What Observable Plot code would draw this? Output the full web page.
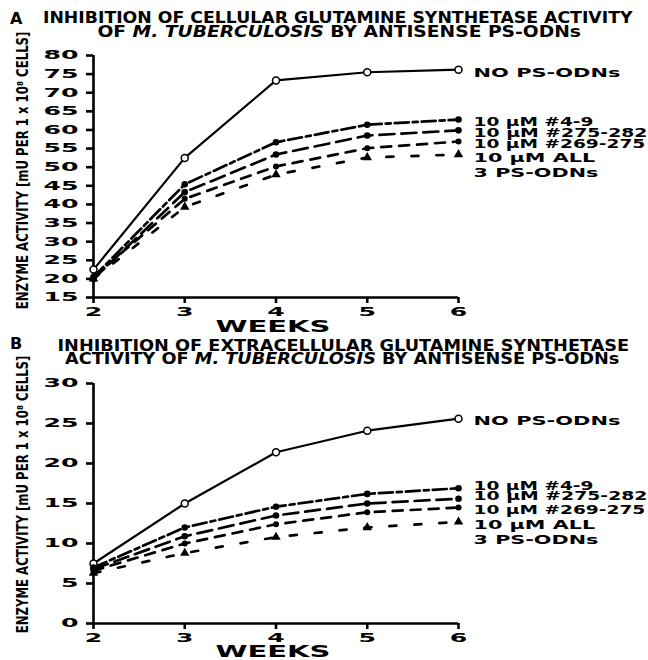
<!DOCTYPE html>
<html>
<head>
<meta charset="utf-8">
<script src="https://cdn.jsdelivr.net/npm/d3@7"></script>
<script src="https://cdn.jsdelivr.net/npm/@observablehq/plot@0.6"></script>
<style>
  body { margin: 0; background: #fff; }
  #root { position: relative; width: 648px; height: 660px; overflow: hidden; background: #fff;
          font-family: "DejaVu Sans", sans-serif; font-weight: bold; color: #000; }
  .letter { position: absolute; left: 10px; font-size: 16px; line-height: 16px; }
  .tline { position: absolute; left: 0; text-align: center; font-size: 15px; line-height: 15px; white-space: nowrap; }
  .tline span { display: inline-block; transform-origin: 50% 50%; }
  .tline i { font-style: italic; }
  .panel { position: absolute; left: 0; }
</style>
</head>
<body>
<div id="root"></div>
<script>
// ---------- data ----------
const weeks = [2, 3, 4, 5, 6];
const seriesLabels = ["NO PS-ODNs", "10 µM #4-9", "10 µM #275-282", "10 µM #269-275", "10 µM ALL\n3 PS-ODNs"];

// Panel A: cellular enzyme activity (mU per 1 x 10^8 cells)
const cellularNone = [22.5, 52.5, 73.3, 75.5, 76.2];
const cellular49   = [20.5, 45.4, 56.7, 61.4, 62.8];
const cellular275  = [20.0, 43.3, 53.4, 58.5, 59.9];
const cellular269  = [20.5, 41.5, 50.2, 55.1, 56.9];
const cellularAll  = [20.0, 39.3, 48.0, 52.6, 53.4];
const yTicksA = [15, 20, 25, 30, 35, 40, 45, 50, 55, 60, 65, 70, 75, 80];

// Panel B: extracellular enzyme activity
const extraNone = [7.5, 15.0, 21.4, 24.1, 25.6];
const extra49   = [7.0, 12.0, 14.6, 16.2, 16.9];
const extra275  = [6.8, 10.9, 13.5, 15.0, 15.6];
const extra269  = [6.6, 10.0, 12.4, 13.9, 14.5];
const extraAll  = [6.3, 8.8, 10.8, 12.0, 12.7];
const yTicksB = [0, 5, 10, 15, 20, 25, 30];

const yLabel = "ENZYME ACTIVITY [mU PER 1 x 10⁸ CELLS]";
const xLabel = "WEEKS";
const titleA = ["INHIBITION OF CELLULAR GLUTAMINE SYNTHETASE ACTIVITY", "OF <i>M. TUBERCULOSIS</i> BY ANTISENSE PS-ODNs"];
const titleB = ["INHIBITION OF EXTRACELLULAR GLUTAMINE SYNTHETASE", "ACTIVITY OF <i>M. TUBERCULOSIS</i> BY ANTISENSE PS-ODNs"];

// ---------- helpers ----------
const rows = (vals) => weeks.map((w, i) => ({week: w, value: vals[i]}));
// rendered widths (px) of the right-hand series labels
const labelWidths = [147, 120, 174, 172, 125];

function scaleText(t, k) {
  const tr = t.getAttribute("transform");
  if (tr) t.setAttribute("transform", tr + ` scale(${k},1)`);
  else {
    const x = +t.getAttribute("x") || 0, y = +t.getAttribute("y") || 0;
    t.setAttribute("transform", `translate(${x},${y}) scale(${k},1) translate(${-x},${-y})`);
  }
}
function fitText(t, target) {
  const w = t.getBBox().width;
  if (w > 0) scaleText(t, target / w);
}

function makePanel(cfg) {
  const [none, s49, s275, s269, sAll] = cfg.series;
  const lw = 2.7;
  const labelMarks = cfg.series.map((s, i) =>
    Plot.text([{week: 6, value: s[s.length - 1], label: seriesLabels[i]}],
      {x: "week", y: "value", text: "label", dx: 15, dy: -4 + cfg.labelShift[i], textAnchor: "start",
       lineAnchor: "top", lineHeight: 1.2, fontSize: 12.5}));
  return Plot.plot({
    width: 648,
    height: cfg.height,
    marginLeft: 93,
    marginRight: 190,
    marginTop: cfg.marginTop,
    marginBottom: cfg.marginBottom,
    x: {domain: [2, 6]},
    y: {domain: cfg.yDomain},
    style: {fontFamily: "DejaVu Sans", fontWeight: "bold", fontSize: "13px", color: "#000",
            background: "transparent", overflow: "visible"},
    marks: [
      Plot.ruleX([2], {strokeWidth: 2.6}),
      Plot.ruleY([cfg.yDomain[0]], {strokeWidth: 2.6}),
      Plot.axisY({ticks: cfg.yTicks, tickSize: 7, strokeWidth: 2.6, label: null, tickFormat: () => ""}),
      Plot.axisX({ticks: weeks, tickSize: 6, strokeWidth: 2.6, label: null, tickFormat: () => ""}),
      Plot.text(cfg.yTicks, {x: () => 2, y: d => d, text: d => String(d), dx: -15, textAnchor: "end",
                             lineAnchor: "middle", fontSize: 12}),
      Plot.text(weeks, {x: d => d, y: () => cfg.yDomain[0], text: d => String(d), dy: 10,
                        lineAnchor: "top", fontSize: 12}),
      Plot.line(rows(none), {x: "week", y: "value", strokeWidth: 2.2}),
      Plot.line(rows(s49), {x: "week", y: "value", strokeWidth: lw, strokeDasharray: "14,4,5,4"}),
      Plot.line(rows(s275), {x: "week", y: "value", strokeWidth: lw, strokeDasharray: "15,7"}),
      Plot.line(rows(s269), {x: "week", y: "value", strokeWidth: lw, strokeDasharray: "10,8"}),
      Plot.line(rows(sAll), {x: "week", y: "value", strokeWidth: lw, strokeDasharray: "7,18"}),
      Plot.dot(rows(none), {x: "week", y: "value", r: 3.5, fill: "white", stroke: "black", strokeWidth: 1.5}),
      Plot.dot(rows(s49), {x: "week", y: "value", r: 3.3, fill: "black"}),
      Plot.dot(rows(s275), {x: "week", y: "value", r: 3.3, fill: "black"}),
      Plot.dot(rows(s269), {x: "week", y: "value", r: 3, fill: "black"}),
      Plot.dot(rows(sAll), {x: "week", y: "value", r: 3.5, symbol: "triangle", fill: "black"}),
      ...labelMarks,
      Plot.text([yLabel], {frameAnchor: "left", rotate: -90, dx: -70, dy: cfg.yLabelDy,
                           textAnchor: "middle", lineAnchor: "middle", fontSize: 15,
                           fontFamily: "DejaVu Sans Condensed"}),
      Plot.text([xLabel], {frameAnchor: "bottom", dx: -3, dy: cfg.weeksDy, lineAnchor: "top",
                           fontSize: 16})
    ]
  });
}

function addTitle(root, letter, letterTop, lines) {
  const L = document.createElement("div");
  L.className = "letter"; L.style.top = letterTop + "px"; L.textContent = letter;
  root.appendChild(L);
  for (const ln of lines) {
    const d = document.createElement("div");
    d.className = "tline";
    d.style.top = ln.top + "px";
    d.style.width = (2 * ln.center) + "px";
    const s = document.createElement("span");
    s.innerHTML = ln.html;
    d.appendChild(s);
    root.appendChild(d);
    const w = s.offsetWidth;
    if (w > 0) s.style.transform = `scaleX(${ln.width / w})`;
  }
}

function finishSvg(svg) {
  const firstLines = seriesLabels.map(s => s.split("\n")[0]);
  svg.querySelectorAll("text").forEach(t => {
    const txt = t.textContent.trim();
    if (!txt) return;
    const li = firstLines.findIndex(f => txt.startsWith(f));
    if (txt.startsWith("ENZYME")) fitText(t, 278);
    else if (txt === xLabel) fitText(t, 115);
    else if (/^\d+$/.test(txt)) scaleText(t, 2.1);
    else if (li >= 0) fitText(t, labelWidths[li]);
  });
}

const root = document.getElementById("root");

addTitle(root, "A", 11, [
  {html: titleA[0], center: 337.5, width: 589, top: 11},
  {html: titleA[1], center: 339.5, width: 483, top: 25}
]);
addTitle(root, "B", 336, [
  {html: titleB[0], center: 343, width: 572, top: 339},
  {html: titleB[1], center: 342, width: 554, top: 352}
]);

const svgA = makePanel({
  series: [cellularNone, cellular49, cellular275, cellular269, cellularAll],
  yDomain: [15, 80], yTicks: yTicksA, labelShift: [1, 0, 0, 0, 1],
  height: 293, marginTop: 15, marginBottom: 36, weeksDy: 23, yLabelDy: -6
});
const wrapA = document.createElement("div");
wrapA.className = "panel"; wrapA.style.top = "40px";
wrapA.appendChild(svgA); root.appendChild(wrapA);
finishSvg(svgA);

const svgB = makePanel({
  series: [extraNone, extra49, extra275, extra269, extraAll],
  yDomain: [0, 30], yTicks: yTicksB, labelShift: [0, -5, -5, 0, 0],
  height: 290, marginTop: 13, marginBottom: 37, weeksDy: 22, yLabelDy: -9
});
const wrapB = document.createElement("div");
wrapB.className = "panel"; wrapB.style.top = "370px";
wrapB.appendChild(svgB); root.appendChild(wrapB);
finishSvg(svgB);
</script>
</body>
</html>
